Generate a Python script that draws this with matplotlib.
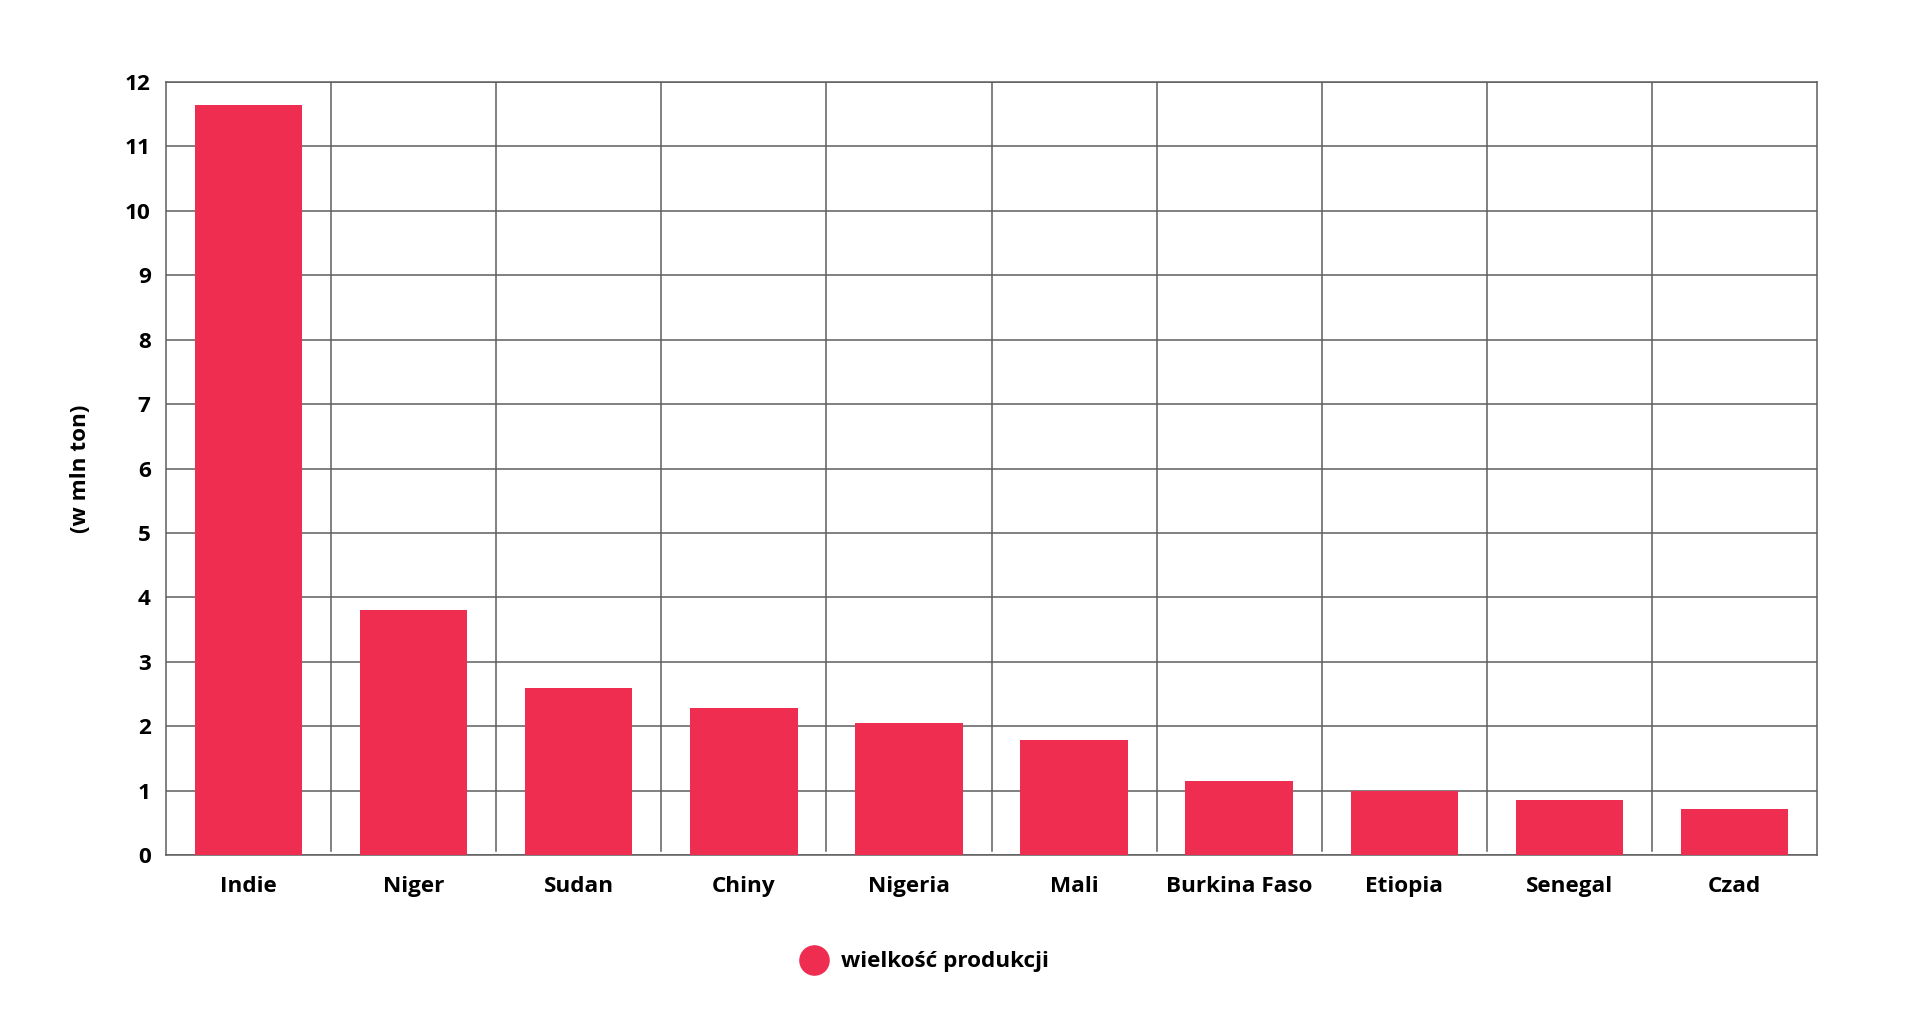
import matplotlib
matplotlib.use("Agg")
import matplotlib.pyplot as plt
from matplotlib.lines import Line2D

plt.rcParams['font.family'] = ['Open Sans', 'DejaVu Sans']
plt.rcParams['font.weight'] = 'bold'

# data (millions of tonnes)
countries = ["Indie", "Niger", "Sudan", "Chiny", "Nigeria", "Mali",
             "Burkina Faso", "Etiopia", "Senegal", "Czad"]
production = [11.64, 3.80, 2.60, 2.28, 2.05, 1.79, 1.15, 0.99, 0.86, 0.72]
y_ticks = list(range(0, 13))
y_label = "(w mln ton)"
legend_label = "wielkość produkcji"

bar_color = "#EF2D50"
grid_color = "#5e5e5e"

fig = plt.figure(figsize=(19.2, 10.27), dpi=100)
ax = fig.add_axes([166 / 1920, 1 - 855 / 1027, (1817 - 166) / 1920, (855 - 82) / 1027])

x = list(range(len(countries)))
ax.bar(x, production, width=0.65, color=bar_color, zorder=3)

ax.set_xlim(-0.5, len(countries) - 0.5)
ax.set_ylim(0, 12)
ax.set_yticks(y_ticks)
ax.set_xticks(x)
ax.set_xticklabels(countries)

# horizontal grid + vertical separators between categories
ax.yaxis.grid(True, color=grid_color, linewidth=1.1, zorder=1)
for i in range(len(countries) - 1):
    ax.axvline(i + 0.5, ymin=0.005, ymax=1, color=grid_color, linewidth=1.1, zorder=1)

for side in ["left", "bottom", "right", "top"]:
    ax.spines[side].set_color(grid_color)
    ax.spines[side].set_linewidth(1.1)

ax.tick_params(axis="both", length=0, labelsize=16.2, labelcolor="black")
ax.tick_params(axis="x", pad=15)
ax.tick_params(axis="y", pad=11)
for lbl in ax.get_xticklabels() + ax.get_yticklabels():
    lbl.set_fontweight("bold")

ax.set_ylabel(y_label, fontsize=16.2, fontweight="bold", labelpad=24)

handle = Line2D([], [], marker="o", linestyle="", color=bar_color, markersize=21)
fig.legend([handle], [legend_label], loc="center", bbox_to_anchor=(0.482, 0.0633),
           frameon=False, prop={"size": 16.2, "weight": "bold"},
           handletextpad=0.7, handlelength=1.0)

fig.savefig("out.png", dpi=100, facecolor="white")
